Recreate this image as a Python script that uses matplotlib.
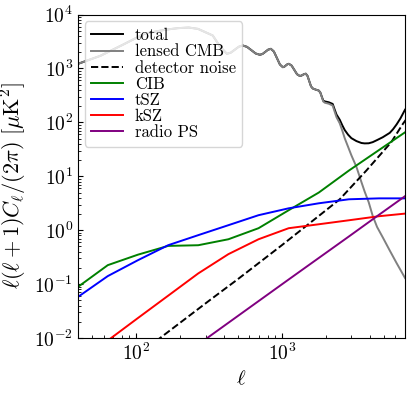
import matplotlib
matplotlib.use("Agg")
import matplotlib.pyplot as plt

plt.rcParams['font.family'] = 'serif'
plt.rcParams['font.serif'] = ['cmr10', 'DejaVu Serif']
plt.rcParams['mathtext.fontset'] = 'cm'
plt.rcParams['axes.formatter.use_mathtext'] = True

# lensed CMB
ell_cmb = [40, 57, 81, 115, 160, 194, 230, 266, 336, 376, 420, 447, 476, 507, 540,
           577, 618, 661, 707, 738, 771, 805, 841, 882, 925, 970, 1016, 1040, 1065,
           1091, 1117, 1167, 1218, 1271, 1328, 1359, 1392, 1426, 1460, 1500, 1542,
           1585, 1630, 1710, 1790, 1835, 1880, 1925, 1971, 2100, 2233, 2300, 2371,
           2496, 2600, 2702, 2850, 3000, 3250, 3516, 3700, 3944, 4200, 4500, 4920,
           5500, 6130, 7000]
cmb = [1220, 1720, 2750, 4450, 5250, 5600, 5750, 5430, 4090, 2570, 1870, 1970, 2234,
       2535, 2670, 2518, 2188, 1901, 1794, 1862, 2040, 2234, 2316, 2065, 1566, 1186,
       1057, 1079, 1137, 1197, 1222, 1132, 942, 783, 726, 736, 762, 789, 800, 729,
       583, 467, 426, 405, 390, 360, 296, 244, 232, 222, 205, 160, 125, 96, 70, 50.6,
       35, 24.5, 14.9, 7.8, 5.2, 3.3, 1.85, 1.15, 0.74, 0.42, 0.245, 0.13]

# total
ell_total = [40, 57, 81, 115, 160, 194, 230, 266, 336, 376, 420, 447, 476, 507, 540,
             577, 618, 661, 707, 738, 771, 805, 841, 882, 925, 970, 1016, 1040, 1065,
             1091, 1117, 1167, 1218, 1271, 1328, 1359, 1392, 1426, 1460, 1500, 1542,
             1585, 1630, 1710, 1790, 1835, 1880, 1925, 1971, 2100, 2233, 2300, 2371,
             2496, 2600, 2702, 2850, 3000, 3250, 3516, 3700, 3944, 4200, 4500, 4920,
             5500, 5800, 6130, 6500, 7000]
total = [1220, 1720, 2750, 4450, 5250, 5600, 5750, 5430, 4090, 2570, 1870, 1970, 2234,
         2535, 2670, 2518, 2188, 1901, 1794, 1862, 2040, 2234, 2316, 2065, 1566, 1186,
         1057, 1079, 1137, 1197, 1222, 1132, 942, 783, 726, 736, 762, 789, 800, 729,
         583, 467, 426, 405, 390, 360, 300, 252, 245, 236, 220, 175, 140, 112, 88, 72,
         59, 51, 45, 41.5, 40.8, 41, 43, 47, 53, 64, 75, 92, 118, 172]

# detector noise
ell_noise = [120, 146, 321, 500, 1000, 1820, 2496, 3810, 5630, 6780, 7480]
noise = [0.0067, 0.01, 0.0506, 0.124, 0.527, 1.9, 3.75, 12.9, 43, 94.6, 136]

# foregrounds
ell_fg = [40, 64, 103, 166, 267, 430, 692, 1114, 1793, 2886, 4646, 7480]
cib = [0.089, 0.225, 0.352, 0.512, 0.527, 0.68, 1.09, 2.35, 5.0, 12.8, 30.8, 74]
tsz = [0.058, 0.141, 0.278, 0.527, 0.81, 1.24, 1.9, 2.55, 3.16, 3.75, 3.9, 3.9]
ksz = [0.0035, 0.009, 0.0235, 0.061, 0.158, 0.36, 0.68, 1.09, 1.29, 1.53, 1.82, 2.07]
radio = [0.0003, 0.0007, 0.0018, 0.0047, 0.0076, 0.0192, 0.0484, 0.122, 0.306, 0.767, 1.94, 4.87]

fig = plt.figure(figsize=(4.15, 3.94), dpi=100)
ax = fig.add_axes([0.188, 0.142, 0.788, 0.821])

lw = 1.4
ax.plot(ell_total, total, color='black', lw=lw, label='total')
ax.plot(ell_cmb, cmb, color='grey', lw=lw, label='lensed CMB')
ax.plot(ell_noise, noise, color='black', ls='--', lw=lw, label='detector noise')
ax.plot(ell_fg, cib, color='green', lw=lw, label='CIB')
ax.plot(ell_fg, tsz, color='blue', lw=lw, label='tSZ')
ax.plot(ell_fg, ksz, color='red', lw=lw, label='kSZ')
ax.plot(ell_fg, radio, color='purple', lw=lw, label='radio PS')

ax.set_xscale('log')
ax.set_yscale('log')
ax.set_xlim(40, 7000)
ax.set_ylim(1e-2, 1e4)
ax.tick_params(which='both', direction='in', labelsize=14)
ax.set_xlabel(r'$\ell$', fontsize=15)
ax.set_ylabel(r'$\ell(\ell+1)C_\ell/(2\pi)\ [\mu{\rm K}^2]$', fontsize=16)
ax.yaxis.set_label_coords(-0.15, 0.47)
ax.legend(loc='upper left', fontsize=12, handlelength=1.9, labelspacing=0.05,
          borderpad=0.4, handletextpad=0.7, borderaxespad=0.4)

fig.savefig('out.png', dpi=100)
